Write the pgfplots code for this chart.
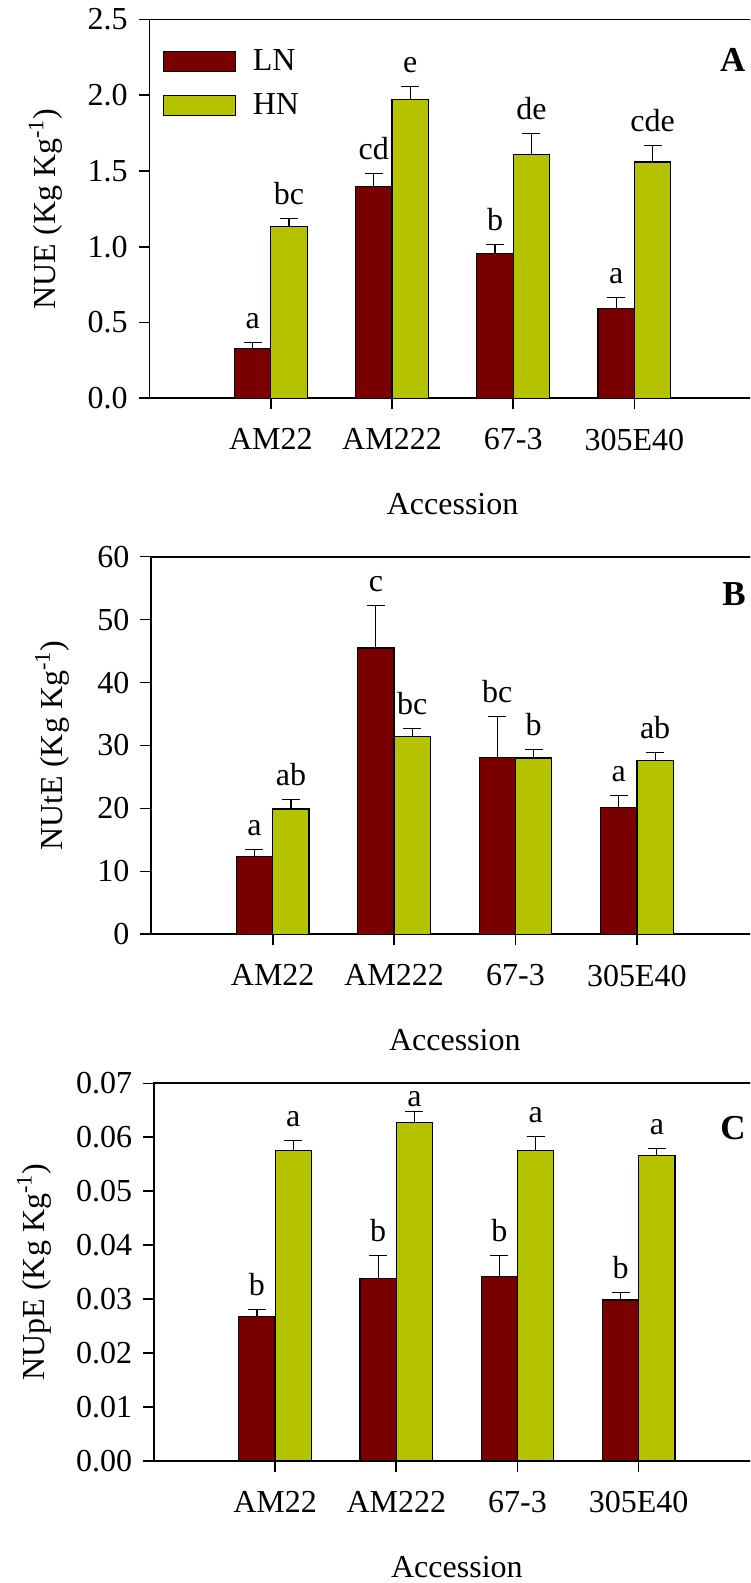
\documentclass[border=0pt]{standalone}
\usepackage{fontspec}
\setmainfont{Liberation Serif}
\usepackage{pgfplots}
\usepackage{pgfplotstable}
\pgfplotsset{compat=1.18}

\definecolor{lncol}{RGB}{122,0,0}
\definecolor{hncol}{RGB}{181,194,0}
\newcommand\lbl{\fontsize{16}{19}\selectfont}

% x: accession index, ln/hn: means, *err: standard errors, *lab: letter groups,
% *off: downward nudge of a letter that would otherwise touch the frame
\pgfplotstableread{
x ln    lnerr hn    hnerr lnlab hnlab lnoff hnoff
1 0.331 0.037 1.136 0.053 a     bc    0 0
2 1.397 0.086 1.970 0.086 cd    e     0 0
3 0.958 0.055 1.611 0.134 b     de    0 0
4 0.594 0.072 1.560 0.106 a     cde   0 0
}\tabNUE
\pgfplotstableread{
x ln   lnerr hn   hnerr lnlab hnlab lnoff hnoff
1 12.3 1.2   19.9 1.5   a     ab    0 0
2 45.5 6.7   31.4 1.3   c     bc    0 0
3 28.1 6.5   28.0 1.3   bc    b     0 0
4 20.2 1.8   27.6 1.3   a     ab    0 0
}\tabNUtE
\pgfplotstableread{
x ln     lnerr  hn     hnerr  lnlab hnlab lnoff hnoff
1 0.0267 0.0014 0.0576 0.0018 b     a     0 0
2 0.0338 0.0043 0.0628 0.0019 b     a     0 0.0016
3 0.0342 0.0038 0.0576 0.0025 b     a     0 0
4 0.0298 0.0014 0.0566 0.0013 b     a     0 0
}\tabNUpE

\tikzset{panelletter/.style={font=\fontsize{17.5}{20}\selectfont\bfseries, anchor=west, inner sep=0pt}}

\pgfplotsset{
  panel/.style={
    scale only axis,
    width=303pt,
    anchor=south west,
    xmin=0, xmax=5, ymin=0,
    xtick={1,2,3,4},
    xticklabels={AM22,AM222,67-3,305E40},
    tick pos=left,
    tick align=outside,
    major tick length=5.4pt,
    tick style={black, line width=0.8pt},
    axis line style={line width=0.85pt},
    clip=false,
    scaled y ticks=false,
    ticklabel style={font=\lbl},
    /pgf/number format/assume math mode=true,
    xticklabel style={yshift=-6.3pt},
    yticklabel style={xshift=-2pt},
    label style={font=\lbl},
    xlabel={Accession},
    xlabel style={at={([yshift=-53pt]axis description cs:0.5,0)}, anchor=center},
  },
  errstyle/.style={error bars/.cd, y dir=plus, y explicit, error mark=|,
    error bar style={black, line width=0.6pt},
    error mark options={black, line width=0.6pt, mark size=4.5pt}},
  lnbar/.style={ybar, bar width=18.15pt, bar shift=0pt, fill=lncol, draw=black, line width=0.6pt, errstyle},
  hnbar/.style={ybar, bar width=18.15pt, bar shift=0pt, fill=hncol, draw=black, line width=0.6pt, errstyle},
  grouplabel/.style={draw=none, mark=none, forget plot, nodes near coords,
    point meta=explicit symbolic,
    nodes near coords style={font=\lbl, text=black, anchor=base, yshift=7pt, inner sep=0pt}},
}

% LN bars sit 0.15 left of the accession position, HN bars 0.15 right
\newcommand\drawpanel[1]{%
  \addplot[lnbar] table[x expr=\thisrow{x}-0.15, y=ln, y error=lnerr] {#1};
  \addplot[hnbar] table[x expr=\thisrow{x}+0.15, y=hn, y error=hnerr] {#1};
  \addplot[grouplabel] table[x expr=\thisrow{x}-0.15,
    y expr=\thisrow{ln}+\thisrow{lnerr}-\thisrow{lnoff}, meta=lnlab] {#1};
  \addplot[grouplabel] table[x expr=\thisrow{x}+0.15,
    y expr=\thisrow{hn}+\thisrow{hnerr}-\thisrow{hnoff}, meta=hnlab] {#1};
}

\begin{document}
\begin{tikzpicture}
\useasboundingbox (0,0) rectangle (375pt,791.5pt);
\clip (0,0) rectangle (375pt,791.5pt);

% ---- NUE ----
\begin{axis}[panel,
  at={(74.8pt,592.35pt)}, height=189.4pt,
  ymax=2.5, ytick={0,0.5,...,2.5},
  yticklabel style={/pgf/number format/fixed, /pgf/number format/fixed zerofill, /pgf/number format/precision=1},
  ylabel={NUE (Kg Kg\textsuperscript{-1})},
  ylabel style={at={([xshift=-52pt]axis description cs:0,0.5)}, anchor=center},
  legend style={draw=none, fill=none, at={(axis description cs:0,1)}, anchor=north west,
    xshift=6.5pt, yshift=-15pt, inner sep=0pt, row sep=9.7pt, column sep=8.3pt,
    nodes={inner sep=0pt}, font=\lbl},
  legend cell align=left,
  legend image code/.code={\draw[#1, line width=0.6pt] (0pt,-5pt) rectangle (36pt,5pt);},
]
\drawpanel{\tabNUE}
\legend{LN,HN}
\node[panelletter] at (axis description cs:0.941,0.893) {A};
\end{axis}

% ---- NUtE ----
\begin{axis}[panel,
  at={(75.65pt,324.35pt)}, height=188.8pt, width=303.5pt,
  ymax=60, ytick={0,10,...,60},
  ylabel={NUtE (Kg Kg\textsuperscript{-1})},
  ylabel style={at={([xshift=-49.5pt]axis description cs:0,0.5)}, anchor=center},
]
\drawpanel{\tabNUtE}
\node[panelletter] at (axis description cs:0.940,0.902) {B};
\end{axis}

% ---- NUpE ----
\begin{axis}[panel,
  at={(76.95pt,61.15pt)}, height=188.7pt,
  ymax=0.07, ytick={0,0.01,...,0.07},
  yticklabel style={/pgf/number format/fixed, /pgf/number format/fixed zerofill, /pgf/number format/precision=2},
  ylabel={NUpE (Kg Kg\textsuperscript{-1})},
  ylabel style={at={([xshift=-60pt]axis description cs:0,0.5)}, anchor=center},
]
\drawpanel{\tabNUpE}
\node[panelletter] at (axis description cs:0.934,0.881) {C};
\end{axis}
\end{tikzpicture}
\end{document}
